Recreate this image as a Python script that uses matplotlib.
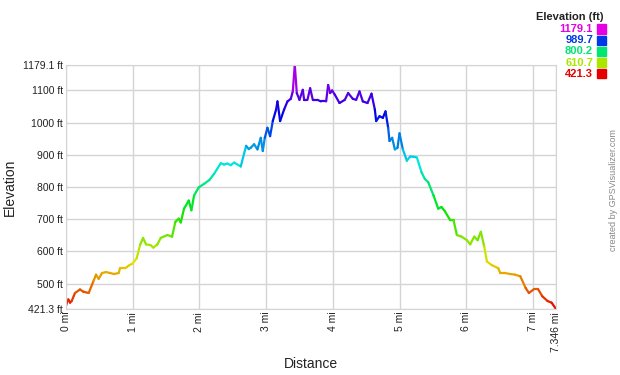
import matplotlib
matplotlib.use("Agg")
import matplotlib.pyplot as plt
from matplotlib.collections import LineCollection
from matplotlib.colors import hsv_to_rgb
import numpy as np

plt.rcParams['font.family'] = ['Liberation Sans', 'DejaVu Sans']

dist = [0, 0.02, 0.035, 0.06, 0.085, 0.135, 0.21, 0.26, 0.34, 0.41, 0.45, 0.49, 0.54, 0.6,
        0.66, 0.72, 0.79, 0.81, 0.89, 0.94, 1.0, 1.06, 1.11, 1.155, 1.2, 1.265, 1.31,
        1.37, 1.42, 1.52, 1.59, 1.64, 1.69, 1.72, 1.77, 1.84, 1.88, 1.92, 1.99, 2.07,
        2.15, 2.22, 2.32, 2.37, 2.42, 2.47, 2.52, 2.62, 2.70, 2.74, 2.77, 2.82, 2.87,
        2.92, 2.95, 2.98, 3.02, 3.06, 3.10, 3.15, 3.17, 3.21, 3.27, 3.32, 3.37, 3.40,
        3.43, 3.46, 3.50, 3.55, 3.57, 3.62, 3.66, 3.70, 3.77, 3.82, 3.90, 3.93, 3.96,
        3.99, 4.03, 4.10, 4.18, 4.23, 4.30, 4.35, 4.40, 4.45, 4.52, 4.58, 4.63, 4.65,
        4.70, 4.75, 4.79, 4.83, 4.85, 4.89, 4.93, 4.97, 5.0, 5.05, 5.11, 5.16, 5.21,
        5.26, 5.33, 5.38, 5.43, 5.51, 5.58, 5.63, 5.68, 5.76, 5.81, 5.86, 5.93, 6.01,
        6.06, 6.12, 6.17, 6.22, 6.27, 6.31, 6.38, 6.48, 6.51, 6.58, 6.66, 6.73, 6.81,
        6.89, 6.94, 7.01, 7.08, 7.14, 7.22, 7.28, 7.346]
elev = [432, 445, 451, 441, 446, 471, 482, 475, 471, 507, 528, 515, 533, 536,
        533, 530, 533, 548, 548, 556, 563, 579, 620, 642, 622, 620, 612,
        622, 642, 651, 646, 692, 702, 690, 733, 758, 728, 774, 799, 810,
        822, 841, 874, 870, 873, 868, 876, 864, 928, 918, 922, 933, 917,
        953, 912, 953, 984, 958, 1005, 1041, 1066, 1005, 1041, 1066, 1074, 1097,
        1179.1, 1092, 1071, 1102, 1071, 1071, 1107, 1071, 1071, 1066, 1066, 1117, 1092,
        1100, 1087, 1061, 1071, 1092, 1074, 1071, 1097, 1066, 1061, 1090, 1041, 1005,
        1020, 1015, 1035, 984, 943, 953, 917, 922, 967, 917, 882, 895, 894,
        892, 846, 825, 815, 774, 733, 738, 725, 697, 697, 651, 646, 635,
        622, 646, 635, 661, 615, 569, 558, 548, 533, 533, 530, 528, 523,
        487, 471, 482, 482, 461, 446, 441, 421.3]

elev_min, elev_max = 421.3, 1179.1
y_ticks = [421.3, 500, 600, 700, 800, 900, 1000, 1100, 1179.1]
y_labels = ["421.3 ft", "500 ft", "600 ft", "700 ft", "800 ft", "900 ft",
            "1000 ft", "1100 ft", "1179.1 ft"]
x_ticks = [0, 1, 2, 3, 4, 5, 6, 7, 7.346]
x_labels = ["0 mi", "1 mi", "2 mi", "3 mi", "4 mi", "5 mi", "6 mi", "7 mi", "7.346 mi"]
legend_vals = [1179.1, 989.7, 800.2, 610.7, 421.3]


def color_elev(e):
    # rojo -> amarillo -> verde -> azul -> magenta
    h = 300.0 * (e - elev_min) / (elev_max - elev_min) / 360.0
    return hsv_to_rgb([h, 1.0, 0.9])


fig = plt.figure(figsize=(6.2, 3.75), dpi=100)
ax = fig.add_axes([66 / 620, 1 - 309 / 375, 490 / 620, 244 / 375])

x = np.array(dist)
y = np.array(elev)
pts = np.column_stack([x, y]).reshape(-1, 1, 2)
segs = np.concatenate([pts[:-1], pts[1:]], axis=1)
cols = [color_elev((y[i] + y[i + 1]) / 2) for i in range(len(y) - 1)]
lc = LineCollection(segs, colors=cols, linewidths=1.6, capstyle='round', joinstyle='round')
ax.add_collection(lc)

ax.set_xlim(0, 7.346)
ax.set_ylim(elev_min, elev_max)
ax.set_yticks(y_ticks)
ax.set_yticklabels(y_labels, fontsize=7.5, color='#222222')
ax.set_xticks(x_ticks)
ax.set_xticklabels(x_labels, fontsize=7.5, rotation=90, color='#222222')
ax.grid(True, color='#d4d4d4', linewidth=1)
ax.set_axisbelow(True)
ax.tick_params(length=0, pad=2)
for s in ax.spines.values():
    s.set_color('#d4d4d4')

fig.text(0.5 * (66 + 556) / 620, 1 - 364 / 375, "Distance", ha='center', va='center',
         fontsize=10, color='#222222')
fig.text(10 / 620, 1 - 187 / 375, "Elevation", ha='center', va='center', rotation=90,
         fontsize=10, color='#222222')
fig.text(614 / 620, 1 - 190 / 375, "created by GPSVisualizer.com", ha='center', va='center',
         rotation=90, fontsize=6.5, color='#888888')

# leyenda de colores
fig.text(604 / 620, 1 - 17 / 375, "Elevation (ft)", ha='right', va='center',
         fontsize=8, fontweight='bold', color='#222222')
for i, v in enumerate(legend_vals):
    yy = 1 - (29 + 11.2 * i) / 375
    c = color_elev(v)
    fig.text(593 / 620, yy, f"{v:.1f}", ha='right', va='center', fontsize=8,
             fontweight='bold', color=c)
    fig.patches.append(plt.Rectangle((597 / 620, yy - 4.5 / 375), 9 / 620, 9 / 375,
                                     transform=fig.transFigure, color=c))

fig.savefig("out.png", dpi=100)
